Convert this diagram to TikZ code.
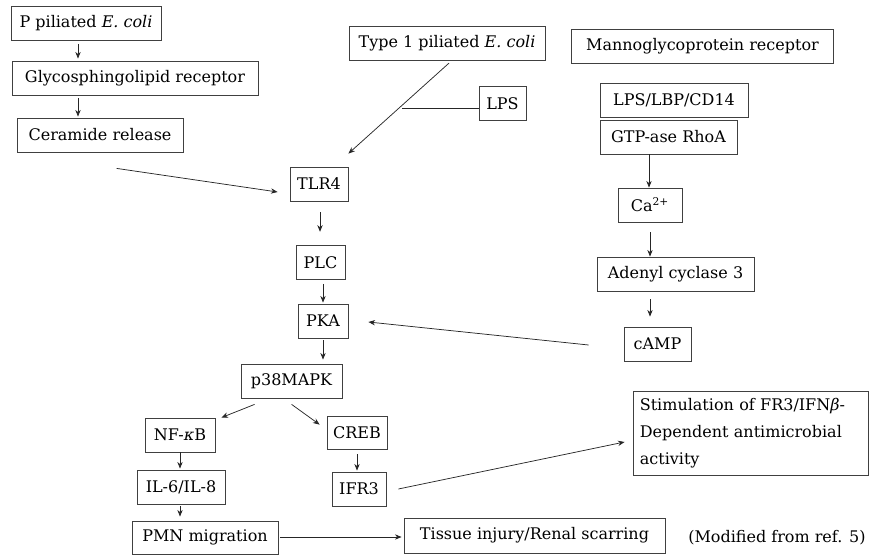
\documentclass[tikz,border=0pt]{standalone}
\usepackage{fontspec}
\setmainfont{DejaVu Serif}
\usetikzlibrary{arrows.meta,calc}
\begin{document}
\begin{tikzpicture}[x=0.75pt,y=-0.75pt,
  box/.style={draw=black!75, line width=0.6pt, minimum height=25.5pt, inner sep=0pt,
    font=\fontsize{12}{14}\selectfont, text=black},
  arr/.style={-{Stealth[length=5pt,width=4pt]}, line width=0.55pt, draw=black!85},
  ln/.style={line width=0.55pt, draw=black!85}]
\useasboundingbox (0,0) rectangle (870,555);
% left column
\node[box, minimum width=112.5pt] (P) at (86,23.5) {P piliated \textit{E. coli}};
\node[box, minimum width=184.5pt] (G) at (135,78) {Glycosphingolipid receptor};
\node[box, minimum width=124.5pt] (C) at (100,135) {Ceramide release};
% middle
\node[box, minimum width=147pt] (T1) at (447,43) {Type 1 piliated \textit{E. coli}};
\node[box, minimum width=35.25pt] (L) at (502.5,103.5) {LPS};
\node[box, minimum width=43.5pt] (TLR) at (319,184) {TLR4};
\node[box, minimum width=36.75pt] (PLC) at (320.5,262.5) {PLC};
\node[box, minimum width=37.5pt] (PKA) at (323,321) {PKA};
\node[box, minimum width=75.75pt] (P38) at (291.5,381) {p38MAPK};
% right column
\node[box, minimum width=196.5pt] (M) at (702.5,46) {Mannoglycoprotein receptor};
\node[box, minimum width=111pt] (LBP) at (674,100) {LPS/LBP/CD14};
\node[box, minimum width=102.75pt] (GTP) at (668.5,137) {GTP-ase RhoA};
\node[box, minimum width=48pt] (CA) at (650,205) {Ca\textsuperscript{2+}};
\node[box, minimum width=117.75pt] (AD) at (675.5,274) {Adenyl cyclase 3};
\node[box, minimum width=50.25pt] (CAMP) at (657.5,344) {cAMP};
% lower
\node[box, minimum width=52.5pt] (NF) at (180,435) {NF-{\itshape κ}B};
\node[box, minimum width=45pt, minimum height=24.75pt] (CREB) at (357,432.5) {CREB};
\node[box, minimum width=66pt] (IL) at (181,487) {IL-6/IL-8};
\node[box, minimum width=40.5pt] (IFR) at (359,489) {IFR3};
\node[box, minimum width=109.5pt, minimum height=24.75pt] (PMN) at (205,537.5) {PMN migration};
\node[box, minimum width=195.75pt, minimum height=26.25pt] (TI) at (534.5,535.5) {Tissue injury/Renal scarring};
\node[box, minimum width=176.25pt, minimum height=63pt, align=left, inner xsep=5pt, text width=166pt,
  font=\fontsize{12}{20}\selectfont] (ST) at (750.5,433)
  {Stimulation of FR3/IFN{\itshape β}-\\Dependent antimicrobial\\activity};
\node[anchor=west, inner sep=0pt, font=\fontsize{12}{14}\selectfont, text=black] (MOD) at (688,538) {(Modified from ref. 5)};
% connectors
\draw[arr, shorten <=2.25pt, shorten >=1.5pt] (P.south -| 78,0) -- (G.north -| 78,0);
\draw[arr, shorten <=2.25pt, shorten >=0.75pt] (G.south -| 78,0) -- (C.north -| 78,0);
\draw[arr] ($(C.south west)+(100,16)$) -- ($(TLR.west)+(-12,8)$);
\draw[arr, shorten <=3pt] (T1.south -| 452,0) -- ($(TLR.north east)+(0,-13)$);
\coordinate (J) at (402,108);
\draw[ln] (L.west |- J) -- (J);
\draw[arr, shorten <=8pt, shorten >=10pt] (TLR.south -| 320,0) -- (PLC.north -| 320,0);
\draw[arr, shorten <=3pt, shorten >=0.75pt] (PLC.south -| 323,0) -- (PKA.north -| 323,0);
\draw[arr, shorten <=1.5pt, shorten >=3pt] (PKA.south -| 323,0) -- (P38.north -| 323,0);
\draw[arr] ($(CAMP.west)+(-35,1)$) -- ($(PKA.east)+(20,1)$);
\draw[arr] (GTP.south -| 649,0) -- (CA.north -| 649,0);
\draw[arr, shorten <=7.5pt] (CA.south -| 650,0) -- (AD.north -| 650,0);
\draw[arr, shorten <=6pt, shorten >=7.5pt] (AD.south -| 650,0) -- (CAMP.north -| 650,0);
\draw[arr] ($(P38.south west)+(14,6)$) -- ($(NF.north east)+(6,0)$);
\draw[arr] ($(P38.south west)+(51,6)$) -- ($(CREB.north west)+(-7,9)$);
\draw[arr, shorten >=0.75pt] (NF.south -| 180,0) -- (IL.north -| 180,0);
\draw[arr, shorten <=1.5pt, shorten >=3pt] (IL.south -| 180,0) -- (PMN.north -| 180,0);
\draw[arr, shorten <=3.5pt, shorten >=0.75pt] (CREB.south -| 357,0) -- (IFR.north -| 357,0);
\draw[arr] ($(IFR.east)+(12,0)$) -- ($(ST.west)+(-8,9)$);
\draw[arr, shorten <=1.5pt, shorten >=1.5pt] (PMN.east |- 0,537) -- (TI.west |- 0,537);
\end{tikzpicture}
\end{document}
